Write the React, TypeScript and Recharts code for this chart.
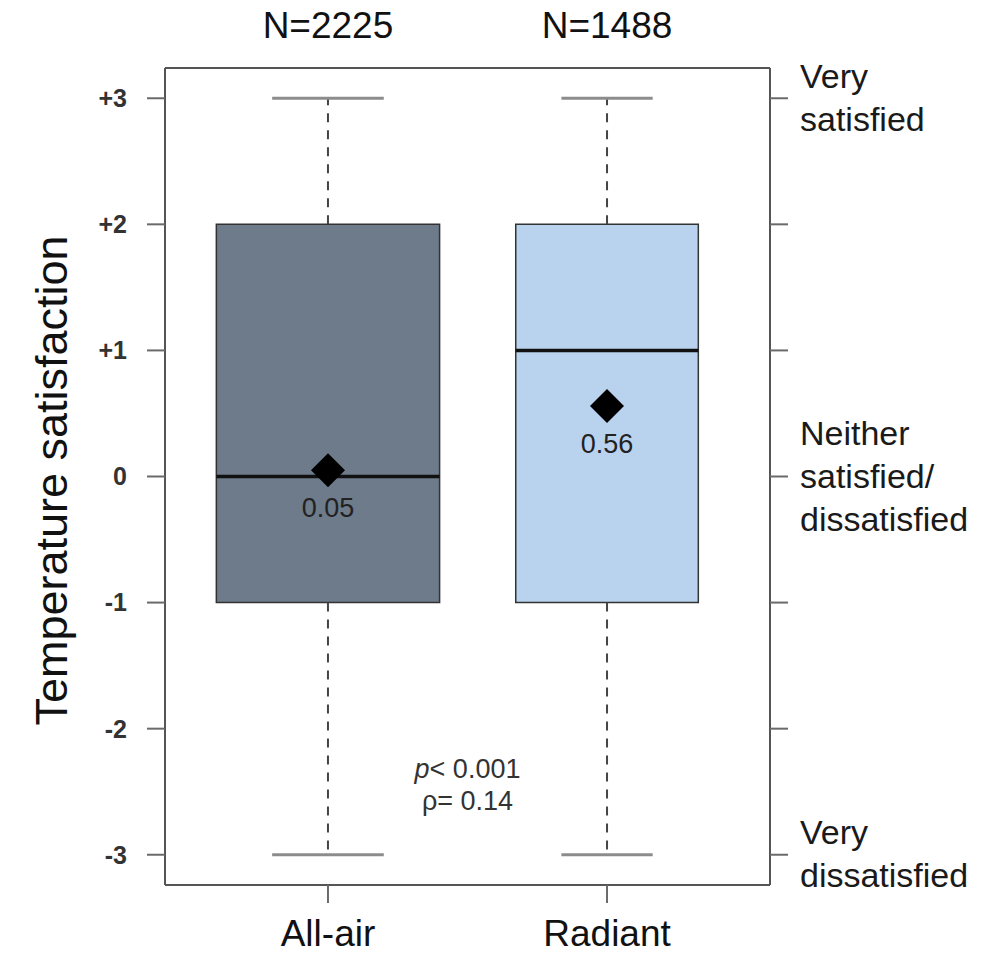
import React from "react";
import {
  ComposedChart,
  Scatter,
  XAxis,
  YAxis,
  ReferenceArea,
  ReferenceLine,
  ReferenceDot,
} from "recharts";

// groups and their summary statistics
const groups = ["All-air", "Radiant"];
const positions = [1, 2];
const counts = [2225, 1488];
const mins = [-3, -3];
const q1s = [-1, -1];
const medians = [0, 1];
const q3s = [2, 2];
const maxs = [3, 3];
const means = [0.05, 0.56];
const fills = ["#6e7b8b", "#b9d3ee"];

const yTicks = [-3, -2, -1, 0, 1, 2, 3];
const rightTickValues = [3, 0, -3];
const rightTickText = [
  ["Very", "satisfied"],
  ["Neither", "satisfied/", "dissatisfied"],
  ["Very", "dissatisfied"],
];
const pText = "< 0.001";
const rhoText = "ρ= 0.14";

const FONT = "'Liberation Sans', Arial, Helvetica, sans-serif";
const maxN = Math.max(...counts);
// R boxplot(varwidth = TRUE): width ~ sqrt(n)
const boxWidths = counts.map((n) => 0.8 * Math.sqrt(n / maxN));

const meanPoints = positions.map((p, i) => ({ x: p, y: means[i] }));

const fmtLeft = (v: number) => (v > 0 ? `+${v}` : `${v}`);

function RightTick(props: any) {
  const { x, y, payload } = props;
  const idx = rightTickValues.indexOf(payload.value);
  if (idx < 0) return <g />;
  const lines = rightTickText[idx];
  const lh = 43;
  return (
    <text x={x} y={y} fontSize={34} fill="#1a1a1a" textAnchor="start" fontFamily={FONT}>
      {lines.map((s, i) => (
        <tspan key={i} x={x} y={y + 11 + (i - (lines.length - 1) / 2) * lh}>
          {s}
        </tspan>
      ))}
    </text>
  );
}

function MeanDiamond(props: any) {
  const { cx, cy, payload } = props;
  const r = 17;
  return (
    <g>
      <polygon
        points={`${cx},${cy - r} ${cx + r},${cy} ${cx},${cy + r} ${cx - r},${cy}`}
        fill="#000"
      />
      <text x={cx} y={cy + 47} textAnchor="middle" fontSize={27} fill="#222" fontFamily={FONT}>
        {payload.y.toFixed(2)}
      </text>
    </g>
  );
}

function YLabel(props: any) {
  const vb = props.viewBox || { x: 105, y: 68, width: 60, height: 817 };
  const x = vb.x - 38;
  const y = vb.y + vb.height / 2 + 4;
  return (
    <text
      x={x}
      y={y}
      transform={`rotate(-90, ${x}, ${y})`}
      textAnchor="middle"
      fontSize={45}
      fill="#111"
      fontFamily={FONT}
    >
      Temperature satisfaction
    </text>
  );
}

function StatsLabel(props: any) {
  const vb = props.viewBox || { x: 0, y: 0 };
  const cx = vb.x + (vb.width || 0) / 2;
  const cy = vb.y + (vb.height || 0) / 2;
  return (
    <text textAnchor="middle" fontSize={27} fill="#333" fontFamily={FONT}>
      <tspan x={cx} y={cy}>
        <tspan fontStyle="italic">p</tspan>
        {pText}
      </tspan>
      <tspan x={cx} y={cy + 32}>
        {rhoText}
      </tspan>
    </text>
  );
}

export default function App() {
  const frame = { stroke: "#555", strokeWidth: 2 };
  const tickLine = { stroke: "#6a6a6a", strokeWidth: 2 };
  return (
    <div style={{ position: "absolute", left: 0, top: 0, width: 984, height: 953, fontFamily: FONT }}>
      <ComposedChart
        width={984}
        height={953}
        data={meanPoints}
        margin={{ top: 28, right: 14, bottom: 8, left: 105 }}
      >
        <XAxis
          xAxisId="top"
          orientation="top"
          dataKey="x"
          type="number"
          domain={[0.416, 2.584]}
          allowDataOverflow
          ticks={positions}
          tickFormatter={(v: number) => `N=${counts[positions.indexOf(v)]}`}
          tickLine={false}
          tickSize={0}
          tickMargin={30}
          height={40}
          axisLine={frame}
          tick={{ fontSize: 37, fill: "#111", fontFamily: FONT }}
        />
        <XAxis
          dataKey="x"
          type="number"
          domain={[0.416, 2.584]}
          allowDataOverflow
          ticks={positions}
          tickFormatter={(v: number) => groups[positions.indexOf(v)]}
          tickSize={18}
          tickMargin={17}
          height={60}
          axisLine={frame}
          tickLine={tickLine}
          tick={{ fontSize: 37, fill: "#111", fontFamily: FONT }}
        />
        <YAxis
          dataKey="y"
          type="number"
          domain={[-3.24, 3.24]}
          allowDataOverflow
          ticks={yTicks}
          tickFormatter={fmtLeft}
          width={60}
          tickSize={18}
          tickMargin={20}
          axisLine={frame}
          tickLine={tickLine}
          tick={{ fontSize: 25, fontWeight: "bold", fill: "#333", fontFamily: FONT }}
          label={{ content: (p: any) => <YLabel {...p} /> }}
        />
        <YAxis
          yAxisId="right"
          orientation="right"
          type="number"
          domain={[-3.24, 3.24]}
          allowDataOverflow
          ticks={yTicks}
          width={200}
          tickSize={18}
          tickMargin={12}
          axisLine={frame}
          tickLine={tickLine}
          tick={<RightTick />}
        />

        {positions.map((p, i) => (
          <ReferenceLine
            key={`wu-${i}`}
            segment={[
              { x: p, y: q3s[i] },
              { x: p, y: maxs[i] },
            ]}
            stroke="#444"
            strokeWidth={2}
            strokeDasharray="9 8"
          />
        ))}
        {positions.map((p, i) => (
          <ReferenceLine
            key={`wl-${i}`}
            segment={[
              { x: p, y: q1s[i] },
              { x: p, y: mins[i] },
            ]}
            stroke="#444"
            strokeWidth={2}
            strokeDasharray="9 8"
          />
        ))}
        {positions.map((p, i) => (
          <ReferenceLine
            key={`cu-${i}`}
            segment={[
              { x: p - boxWidths[i] / 4, y: maxs[i] },
              { x: p + boxWidths[i] / 4, y: maxs[i] },
            ]}
            stroke="#8c8c8c"
            strokeWidth={3}
          />
        ))}
        {positions.map((p, i) => (
          <ReferenceLine
            key={`cl-${i}`}
            segment={[
              { x: p - boxWidths[i] / 4, y: mins[i] },
              { x: p + boxWidths[i] / 4, y: mins[i] },
            ]}
            stroke="#8c8c8c"
            strokeWidth={3}
          />
        ))}
        {positions.map((p, i) => (
          <ReferenceArea
            key={`box-${i}`}
            x1={p - boxWidths[i] / 2}
            x2={p + boxWidths[i] / 2}
            y1={q1s[i]}
            y2={q3s[i]}
            fill={fills[i]}
            fillOpacity={1}
            stroke="#333"
            strokeWidth={1.5}
          />
        ))}
        {positions.map((p, i) => (
          <ReferenceLine
            key={`med-${i}`}
            segment={[
              { x: p - boxWidths[i] / 2, y: medians[i] },
              { x: p + boxWidths[i] / 2, y: medians[i] },
            ]}
            stroke="#111"
            strokeWidth={3.5}
          />
        ))}
        <ReferenceDot
          x={1.5}
          y={-2.39}
          r={0}
          fill="none"
          stroke="none"
          label={{ content: (p: any) => <StatsLabel {...p} /> }}
        />
        <Scatter
          data={meanPoints}
          dataKey="y"
          isAnimationActive={false}
          shape={(p: any) => <MeanDiamond {...p} />}
        />
      </ComposedChart>
    </div>
  );
}
